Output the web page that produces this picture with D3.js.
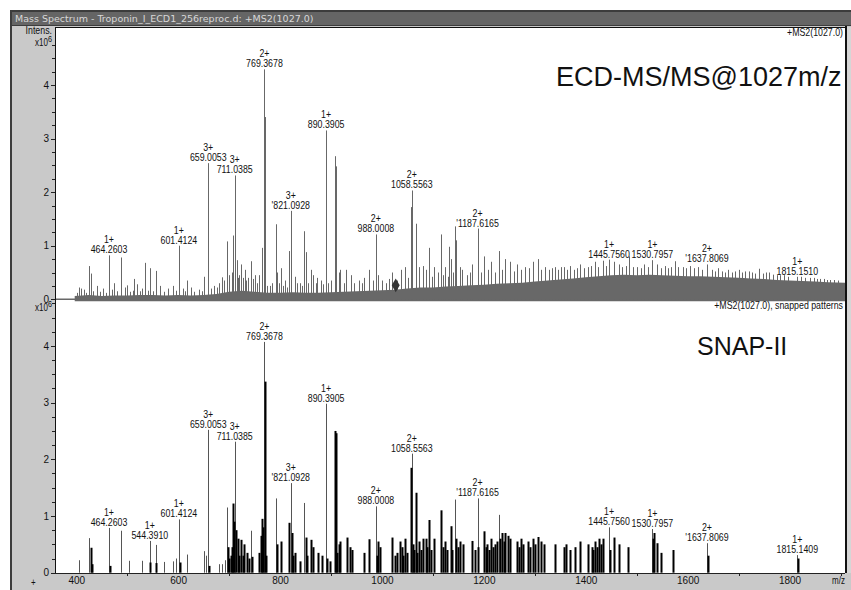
<!DOCTYPE html>
<html>
<head>
<meta charset="utf-8">
<script src="https://cdn.jsdelivr.net/npm/d3@7"></script>
<style>
  body { margin: 0; background: #fff; }
  svg text { font-family: "Liberation Sans", Arial, sans-serif; }
  .tiny { font-size: 11px; fill: #111; }
  .axis path, .axis line { stroke: #222; shape-rendering: crispEdges; }
  .axis text { font-family: "Liberation Sans", Arial, sans-serif; font-size: 10px; fill: #111; }
</style>
</head>
<body>
<div id="chart"></div>
<script>
// ---- data (m/z, intensity x10^6) ----
var xTickLabels = [400, 600, 800, 1000, 1200, 1400, 1600, 1800];
var xMinorTicks = [500, 700, 900, 1100, 1300, 1500, 1700, 1900];
var yTopTicks = [0, 1, 2, 3, 4];
var yBotTicks = [0, 1, 2, 3, 4];

// top panel: baseline noise level (grey band)
var noiseMz = [397, 425, 450, 475, 500, 525, 550, 575, 600, 625, 650, 675, 700, 725, 750, 775,
  800, 825, 850, 875, 900, 925, 950, 975, 1000, 1025, 1050, 1075, 1100, 1125, 1150, 1175,
  1200, 1225, 1250, 1275, 1300, 1325, 1350, 1375, 1400, 1425, 1450, 1475, 1500, 1525, 1550,
  1575, 1600, 1625, 1650, 1675, 1700, 1725, 1750, 1775, 1800, 1825, 1850, 1875, 1910];
var noiseLevel = [0.06, 0.08, 0.06, 0.07, 0.07, 0.08, 0.08, 0.07, 0.08, 0.07, 0.08, 0.1, 0.14, 0.16, 0.14, 0.12,
  0.12, 0.13, 0.12, 0.12, 0.13, 0.14, 0.15, 0.16, 0.17, 0.18, 0.2, 0.22, 0.22, 0.24, 0.25, 0.26,
  0.27, 0.29, 0.3, 0.31, 0.33, 0.35, 0.37, 0.39, 0.41, 0.43, 0.45, 0.46, 0.45, 0.46, 0.45,
  0.44, 0.43, 0.43, 0.42, 0.41, 0.4, 0.39, 0.38, 0.36, 0.35, 0.34, 0.33, 0.32, 0.31];

// top panel: small spikes on top of the noise
var topSpikeMz = [401, 405, 410, 415, 419, 433, 440, 447, 452, 458, 470, 475, 480, 495, 506, 511, 520, 525,
  530, 540, 551, 565, 572, 580, 590, 596, 610, 613, 625, 632, 640, 646, 664, 670, 676, 680, 690,
  700, 705, 718, 720, 727, 733, 747, 750, 755, 775, 780, 785, 797, 806, 810, 813, 834, 840, 843, 855,
  860, 865, 870, 873, 880, 885, 895, 900, 915, 918, 925, 930, 940, 946, 955, 960, 965, 975, 982,
  993, 1000, 1008, 1013, 1020, 1030, 1037, 1046, 1052, 1073, 1080, 1086, 1098, 1103, 1110, 1119,
  1124, 1129, 1139, 1153, 1158, 1166, 1172, 1177, 1195, 1201, 1209, 1215, 1222, 1230, 1236, 1242,
  1252, 1259, 1266, 1272, 1280, 1288, 1297, 1306, 1313, 1320, 1327, 1333, 1339, 1346, 1351, 1357,
  1363, 1370, 1377, 1383, 1389, 1396, 1404, 1411, 1418, 1425, 1433, 1439, 1455, 1465, 1472, 1478,
  1492, 1500, 1508, 1515, 1522, 1540, 1548, 1555, 1562, 1568, 1582, 1590, 1597, 1605, 1612, 1620,
  1628, 1647, 1653, 1660, 1667, 1673, 1680, 1687, 1693, 1700, 1707, 1713, 1720, 1727, 1733, 1747,
  1753, 1760, 1767, 1782, 1790, 1797, 1823, 1830, 1840, 1847, 1853, 1860, 1867, 1873, 1880, 1888, 1895];
var topSpikeInt = [0.12, 0.22, 0.2, 0.18, 0.12, 0.15, 0.25, 0.14, 0.2, 0.12, 0.18, 0.3, 0.15, 0.22, 0.14, 0.16, 0.28, 0.15,
  0.2, 0.16, 0.15, 0.25, 0.14, 0.2, 0.25, 0.16, 0.2, 0.15, 0.22, 0.14, 0.18, 0.15, 0.2, 0.25, 0.22, 0.3, 0.35,
  0.45, 0.5, 0.4, 0.45, 0.4, 0.35, 0.38, 0.45, 0.3, 0.25, 0.25, 0.3, 0.3, 0.25, 0.35, 0.22, 0.3, 0.3, 0.25, 0.3,
  0.55, 0.45, 0.3, 0.4, 0.35, 0.28, 0.3, 0.35, 0.5, 0.55, 0.3, 0.55, 0.45, 0.3, 0.35, 0.3, 0.4, 0.55, 0.35,
  0.45, 0.35, 0.3, 0.38, 0.5, 0.35, 0.55, 0.6, 0.4, 0.6, 0.62, 0.55, 0.42, 0.6, 0.5, 0.45,
  0.6, 0.42, 0.5, 0.6, 0.55, 0.45, 0.5, 0.65, 0.5, 0.8, 0.55, 0.7, 0.5, 0.9, 0.55, 0.75,
  0.7, 0.52, 0.65, 0.55, 0.6, 0.58, 0.7, 0.75, 0.55, 0.6, 0.55, 0.58, 0.6, 0.55, 0.6, 0.6,
  0.55, 0.62, 0.55, 0.58, 0.65, 0.58, 0.6, 0.62, 0.7, 0.6, 0.72, 0.62, 0.7, 0.65, 0.6, 0.62,
  0.6, 0.6, 0.58, 0.65, 0.6, 0.65, 0.58, 0.62, 0.58, 0.6, 0.6, 0.6, 0.58, 0.62, 0.58, 0.6,
  0.55, 0.55, 0.52, 0.58, 0.52, 0.5, 0.55, 0.5, 0.52, 0.55, 0.5, 0.52, 0.52, 0.5, 0.48, 0.48,
  0.5, 0.5, 0.46, 0.45, 0.45, 0.42, 0.42, 0.4, 0.4, 0.4, 0.38, 0.38, 0.38, 0.36, 0.36, 0.36, 0.35];

// top panel: main peaks
var topPeakMz = [425, 428, 464.26, 487, 499, 514, 535, 544, 556, 601.41, 617, 651, 659.01, 685.5, 695.3,
  708.4, 711.04, 714.9, 723.3, 731, 737.7, 742.4, 759.3, 764.6, 769.37, 770.9, 792, 794.6, 801.8, 818.2,
  821.09, 829, 847.5, 851, 890.39, 907.3, 909.3, 988.0, 1057.3, 1058.56, 1066.3, 1092.4, 1116, 1132.3,
  1135, 1144, 1145.3, 1187.62, 1445.76, 1485, 1530.8, 1575, 1637.81, 1740, 1776, 1815.15];
var topPeakInt = [0.62, 0.48, 0.82, 0.78, 0.26, 0.38, 0.68, 0.58, 0.53, 1.0, 0.35, 0.42, 2.54, 0.41, 1.08,
  1.19, 2.31, 0.73, 0.65, 0.55, 0.4, 0.71, 0.45, 0.96, 4.29, 3.4, 1.4, 0.5, 0.58, 0.9,
  1.65, 0.42, 1.27, 0.88, 3.15, 2.67, 2.48, 1.21, 1.72, 2.03, 1.41, 0.96, 1.21, 0.98,
  0.75, 1.36, 1.1, 1.32, 0.74, 0.8, 0.73, 0.71, 0.65, 0.57, 0.45, 0.42];

var precursorMz = 1027.0;

// bottom panel: snapped pattern lines (grey) and isotope sticks (black)
var botLineMz = [405.8, 425, 464.26, 487.8, 503.5, 529.6, 544.39, 556, 572.2, 589.3, 595, 601.41, 616.6,
  650.7, 654, 659.01, 679.4, 685.4, 692.6, 695.3, 711.04, 742.4, 769.37, 792, 821.09, 847.5, 890.39,
  988.0, 1058.56, 1144, 1187.62, 1230, 1445.76, 1530.8, 1637.81, 1815.14];
var botLineInt = [0.22, 0.61, 0.79, 0.74, 0.21, 0.21, 0.56, 0.49, 0.19, 0.2, 0.25, 0.94, 0.32,
  0.38, 0.3, 2.52, 0.15, 0.15, 0.22, 1.15, 2.31, 0.74, 4.07, 1.31, 1.58, 1.23, 2.98,
  1.17, 2.1, 1.29, 1.31, 1.02, 0.8, 0.77, 0.52, 0.31];
var botStickMz = [428, 431.5, 466, 545.5, 557.5, 603, 661, 697.3, 700, 703.8, 705.7, 708.4, 710, 713, 716.5,
  720, 723.5, 727, 730, 734.6, 740, 745, 758, 762.6, 765, 767, 770.6, 772.4, 794, 801.8, 818.2, 822.5,
  825, 830.3, 840, 851, 853, 860, 865, 873.6, 881.5, 892, 899, 907.3, 909.3, 912, 915.3, 918.6, 931.7,
  938, 941.5, 964.3, 974, 990, 992.5, 996, 1020, 1025, 1030, 1035.4, 1038.6, 1042, 1045.8, 1050, 1057,
  1060, 1063, 1066.3, 1069, 1072.8, 1076, 1080, 1085.8, 1089, 1092.3, 1096, 1102.8, 1116, 1119, 1124.4,
  1128, 1135, 1138, 1146, 1149, 1153.2, 1158.4, 1177.4, 1182, 1189, 1200.9, 1204, 1207, 1211, 1215,
  1218, 1222, 1226, 1232, 1235, 1239, 1242, 1247.6, 1252, 1265.4, 1269, 1273.2, 1277, 1287, 1291, 1297,
  1301, 1306, 1311.6, 1318, 1339, 1357.5, 1362, 1369.3, 1378.4, 1389, 1403.6, 1412, 1415, 1418.5, 1422,
  1426.4, 1430, 1433, 1447.5, 1455.6, 1465.4, 1483, 1532.5, 1534.7, 1539.4, 1547, 1572, 1639.3, 1817];
var botStickInt = [0.44, 0.15, 0.12, 0.18, 0.17, 0.18, 0.12, 0.45, 0.25, 0.3, 0.45, 1.22, 0.9, 0.75, 0.6,
  0.3, 0.58, 0.3, 0.5, 0.35, 0.25, 0.28, 0.35, 0.65, 0.95, 0.8, 3.37, 0.3, 0.5, 0.55, 0.88, 0.7,
  0.3, 0.35, 0.2, 0.62, 0.3, 0.58, 0.45, 0.35, 0.3, 0.25, 0.2, 2.5, 2.46, 0.35, 0.5, 0.55, 0.62,
  0.45, 0.4, 0.35, 0.59, 0.3, 0.55, 0.45, 0.62, 0.3, 0.35, 0.55, 0.45, 0.3, 0.6, 0.35, 1.85,
  0.5, 0.4, 1.41, 0.35, 0.55, 0.4, 0.6, 0.6, 0.45, 0.93, 0.4, 0.6, 1.1, 0.45, 0.55,
  0.4, 0.82, 0.4, 0.6, 0.45, 0.55, 0.5, 0.56, 0.4, 0.45, 0.73, 0.45, 0.5, 0.4, 0.6,
  0.45, 0.5, 0.55, 0.6, 0.7, 0.55, 0.7, 0.65, 0.6, 0.55, 0.45, 0.6, 0.5, 0.55, 0.45, 0.6,
  0.5, 0.63, 0.55, 0.5, 0.5, 0.45, 0.5, 0.4, 0.45, 0.55, 0.5, 0.45, 0.4, 0.55, 0.45,
  0.6, 0.5, 0.6, 0.4, 0.62, 0.5, 0.45, 0.6, 0.7, 0.52, 0.35, 0.4, 0.3, 0.25];

// peak annotations: [m/z, charge, text]
var topLabels = [[464.26, "1+", "464.2603"], [601.41, "1+", "601.4124"], [659.01, "3+", "659.0053"],
  [711.04, "3+", "711.0385"], [769.37, "2+", "769.3678"], [821.09, "3+", "'821.0928"],
  [890.39, "1+", "890.3905"], [988.0, "2+", "988.0008"], [1058.56, "2+", "1058.5563"],
  [1187.62, "2+", "'1187.6165"], [1445.76, "1+", "1445.7560"], [1530.8, "1+", "1530.7957"],
  [1637.81, "2+", "'1637.8069"], [1815.15, "1+", "1815.1510"]];
var botLabels = [[464.26, "1+", "464.2603"], [544.39, "1+", "544.3910"], [601.41, "1+", "601.4124"],
  [659.01, "3+", "659.0053"], [711.04, "3+", "711.0385"], [769.37, "2+", "769.3678"],
  [821.09, "3+", "'821.0928"], [890.39, "1+", "890.3905"], [988.0, "2+", "988.0008"],
  [1058.56, "2+", "1058.5563"], [1187.62, "2+", "'1187.6165"], [1445.76, "1+", "1445.7560"],
  [1530.8, "1+", "1530.7957"], [1637.81, "2+", "'1637.8069"], [1815.14, "1+", "1815.1409"]];

// ---- drawing ----
var W = 851, H = 590;
var plot = {left: 55, right: 845, top: 27, bottom: 573};

var svg = d3.select("#chart").append("svg")
    .attr("width", W)
    .attr("height", H);

// window frame
svg.append("rect").attr("x", 10).attr("y", 10).attr("width", W - 10).attr("height", H - 10).attr("fill", "#3c3c3c");
svg.append("rect").attr("x", 12).attr("y", 12).attr("width", W - 12).attr("height", 13).attr("fill", "#656565");
svg.append("rect").attr("x", 12).attr("y", 26).attr("width", W - 12).attr("height", H - 26).attr("fill", "#c9c9c9");
svg.append("text")
    .attr("x", 15).attr("y", 22)
    .style("font-family", "DejaVu Sans, sans-serif")
    .style("font-size", "9.5px")
    .attr("fill", "#d8d8d8")
    .text("Mass Spectrum - Troponin_I_ECD1_256reproc.d: +MS2(1027.0)");

svg.append("rect")
    .attr("x", plot.left).attr("y", plot.top)
    .attr("width", plot.right - plot.left).attr("height", plot.bottom - plot.top)
    .attr("fill", "#fff");
// right border + scrollbar strip
svg.append("rect").attr("x", plot.right).attr("y", plot.top - 1).attr("width", 2).attr("height", plot.bottom - plot.top + 1).attr("fill", "#111");
svg.append("rect").attr("x", plot.right + 2).attr("y", plot.top).attr("width", W - plot.right - 2).attr("height", plot.bottom - plot.top).attr("fill", "#d6d6d6");
svg.append("line").attr("x1", plot.left).attr("x2", plot.right).attr("y1", plot.top + 0.5).attr("y2", plot.top + 0.5).attr("stroke", "#111");
svg.append("line").attr("x1", plot.left + 0.5).attr("x2", plot.left + 0.5).attr("y1", plot.top).attr("y2", plot.bottom).attr("stroke", "#111");

svg.append("clipPath").attr("id", "clip")
  .append("rect").attr("x", plot.left + 1).attr("y", plot.top + 1)
    .attr("width", plot.right - plot.left - 1).attr("height", plot.bottom - plot.top - 1);

// scales
var x = d3.scaleLinear().domain([358.3, 1908.8]).range([plot.left, plot.right]);
var yTop = d3.scaleLinear().domain([0, 5]).range([299.3, 31.3]);
var yBot = d3.scaleLinear().domain([0, 4]).range([572.7, 345.9]);

var grey = "#686868";
var gTop = svg.append("g").attr("clip-path", "url(#clip)");

// top baseline
gTop.append("line")
    .attr("x1", plot.left).attr("x2", plot.right)
    .attr("y1", yTop(0)).attr("y2", yTop(0))
    .attr("stroke", grey).attr("stroke-width", 1.5);

// noise band
var noise = noiseMz.map(function(m, i) { return [m, noiseLevel[i]]; });
var area = d3.area()
    .x(function(d) { return x(d[0]); })
    .y0(yTop(0) + 2)
    .y1(function(d) { return yTop(d[1]); });
gTop.append("path").datum(noise).attr("d", area).attr("fill", grey);

function sticks(g, mz, val, y, color, width) {
    g.selectAll(null)
        .data(mz.map(function(m, i) { return [m, val[i]]; }))
        .enter().append("line")
        .attr("x1", function(d) { return Math.round(x(d[0])) + 0.5; })
        .attr("x2", function(d) { return Math.round(x(d[0])) + 0.5; })
        .attr("y1", y(0))
        .attr("y2", function(d) { return y(d[1]); })
        .attr("stroke", color)
        .attr("stroke-width", width);
}

sticks(gTop, topSpikeMz, topSpikeInt, yTop, grey, 1);
sticks(gTop, topPeakMz, topPeakInt, yTop, grey, 1);

// precursor marker
gTop.append("path")
    .attr("d", d3.symbol().type(d3.symbolDiamond).size(55)())
    .attr("transform", "translate(" + x(precursorMz) + "," + (yTop(0) - 14) + ")")
    .attr("fill", "#333");

// bottom panel sticks
var gBot = svg.append("g").attr("clip-path", "url(#clip)");
sticks(gBot, botLineMz, botLineInt, yBot, "#555", 1);
sticks(gBot, botStickMz, botStickInt, yBot, "#000", 2);

// narrow text: regular font squeezed horizontally
function narrow(px, py, str, anchor, size) {
    svg.append("g")
        .attr("transform", "translate(" + px + "," + py + ") scale(0.8,1)")
      .append("text").attr("class", "tiny")
        .attr("text-anchor", anchor || "middle")
        .style("font-size", (size || 11) + "px")
        .text(str);
}

// labels
function peakTop(mz, pm, pv) {
    var best = 0;
    pm.forEach(function(m, i) { if (Math.abs(m - mz) < 1.6 && pv[i] > best) best = pv[i]; });
    return best;
}
function labelPeaks(list, pm, pv, y) {
    list.forEach(function(l) {
        var top = y(peakTop(l[0], pm, pv));
        var cx = x(l[0]);
        narrow(cx, top - 12, l[1]);
        narrow(cx, top - 2, l[2]);
    });
}
labelPeaks(topLabels, topPeakMz, topPeakInt, yTop);
labelPeaks(botLabels, botLineMz, botLineInt, yBot);

// y axes with quarter ticks
function yAxis(y, labels, maxV) {
    svg.append("g").attr("class", "axis")
        .attr("transform", "translate(" + plot.left + ",0)")
        .call(d3.axisLeft(y).tickValues(d3.range(0, maxV, 0.25)).tickSize(3).tickFormat(""))
        .call(function(g) { g.select(".domain").remove(); });
    svg.append("g").attr("class", "axis")
        .attr("transform", "translate(" + plot.left + ",0)")
        .call(d3.axisLeft(y).tickValues(labels).tickSize(4).tickPadding(2).tickFormat(d3.format("d")))
        .call(function(g) { g.select(".domain").remove(); });
}
yAxis(yTop, yTopTicks, 5.0);
yAxis(yBot, yBotTicks, 4.76);

// x axis
var xAxisG = svg.append("g").attr("class", "axis")
    .attr("transform", "translate(0," + plot.bottom + ")");
xAxisG.call(d3.axisBottom(x).tickValues(xTickLabels).tickSize(0).tickPadding(4).tickFormat(d3.format("d")));
xAxisG.select(".domain").attr("d", "M" + plot.left + ",0.5H" + plot.right);
svg.append("g").attr("class", "axis")
    .attr("transform", "translate(0," + plot.bottom + ")")
    .call(d3.axisBottom(x).tickValues(xMinorTicks).tickSize(3).tickFormat(""))
    .call(function(g) { g.select(".domain").remove(); });

narrow(832, 584, "m/z", "start", 10);
narrow(31, 586, "+", "start", 10);

// axis captions
narrow(52, 34, "Intens.", "end", 11);
function x10(yPos) {
    var g = svg.append("g").attr("transform", "translate(52," + yPos + ") scale(0.8,1)");
    var t = g.append("text").attr("class", "tiny").attr("text-anchor", "end").style("font-size", "10px");
    t.append("tspan").text("x10");
    t.append("tspan").attr("dy", -4).style("font-size", "9px").text("6");
}
x10(46);
x10(311);

narrow(843, 36, "+MS2(1027.0)", "end", 11);
narrow(843, 309, "+MS2(1027.0), snapped patterns", "end", 11);

// panel titles
svg.append("text").attr("x", 556).attr("y", 86)
    .style("font-size", "27px").attr("fill", "#111")
    .text("ECD-MS/MS@1027m/z");
svg.append("text").attr("x", 697).attr("y", 355)
    .style("font-size", "25px").attr("fill", "#111")
    .text("SNAP-II");
</script>
</body>
</html>
